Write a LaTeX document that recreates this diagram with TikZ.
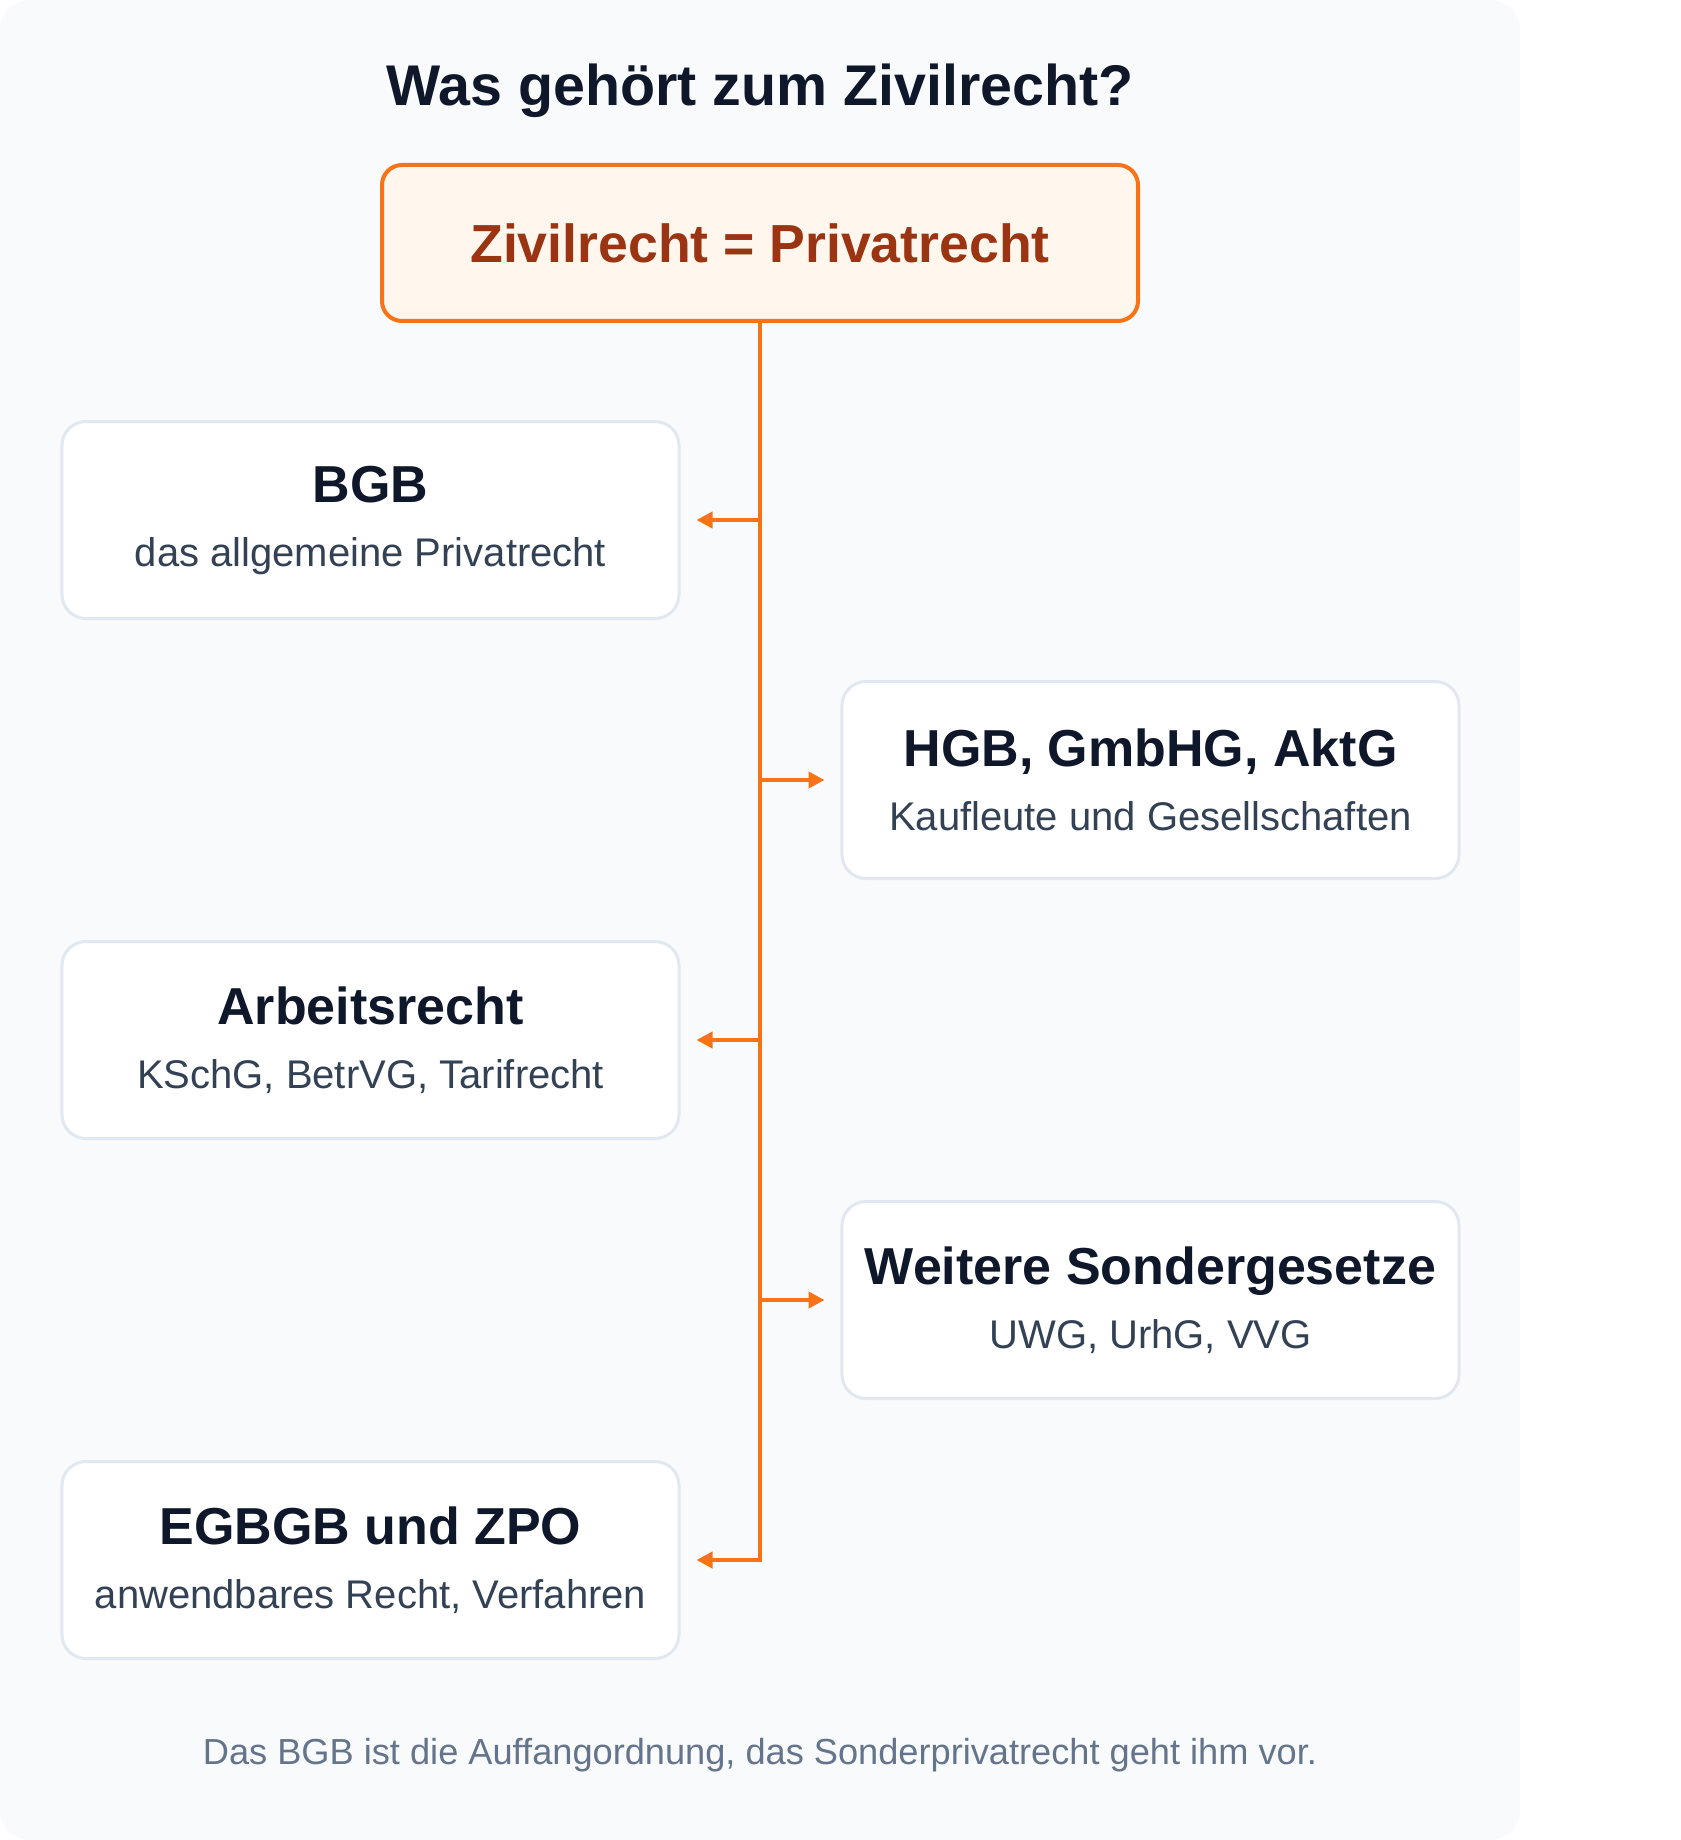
\documentclass[tikz,border=0pt]{standalone}
\usepackage{fontspec}
\setmainfont{Liberation Sans}
\usetikzlibrary{matrix,arrows.meta}

\definecolor{cardbg}{HTML}{F8FAFC}
\definecolor{zorange}{HTML}{F97316}
\definecolor{zfill}{HTML}{FFF7ED}
\definecolor{zbrown}{HTML}{9A3412}
\definecolor{lawline}{HTML}{E2E8F0}
\definecolor{lawtitle}{HTML}{0F172A}
\definecolor{lawsub}{HTML}{334155}
\definecolor{notegray}{HTML}{64748B}

\newcommand{\lawtext}[2]{\parskip=0pt\spaceskip=0pt\xspaceskip=0pt
	\leftskip=0pt plus 1fil\rightskip=0pt plus 1fil\parfillskip=0pt
	{\fontsize{26}{32}\selectfont\bfseries\color{lawtitle}#1\par}{\fontsize{20}{32}\selectfont\color{lawsub}#2\par}}

\begin{document}
\begin{tikzpicture}[
	lawbox/.style={draw=lawline, line width=1.5pt, fill=white, rounded corners=12pt,
		minimum width=308.5pt, minimum height=98.5pt, text width=300pt, align=center, inner sep=0pt},
	branch/.style={draw=zorange, line width=2pt, -{Triangle[length=8pt,width=8pt]}}
	]
	\useasboundingbox (0,0) rectangle (840pt,-920pt);
	\fill[cardbg, rounded corners=15pt] (0,0) rectangle (760pt,-920pt);
	\node (title) [anchor=base, text=lawtitle, font=\fontsize{28.7}{34}\selectfont\bfseries]
		at (380pt,-52.8pt) {Was gehört zum Zivilrecht?};
	\node (zr) [draw=zorange, line width=2pt, fill=zfill, rounded corners=10pt,
		minimum width=378pt, minimum height=78pt, text=zbrown,
		font=\fontsize{26.8}{32}\selectfont\bfseries] at (380pt,-121.5pt) {Zivilrecht = Privatrecht};
	\matrix (m) [row sep=30pt, column sep=80pt] at (380.25pt,-520pt)
	{
		\node[lawbox] (bgb) {\lawtext{BGB}{das allgemeine Privatrecht}}; & \\
		& \node[lawbox] (hgb) {\lawtext{HGB, GmbHG, AktG}{Kaufleute und Gesellschaften}}; \\
		\node[lawbox] (arb) {\lawtext{Arbeitsrecht}{KSchG, BetrVG, Tarifrecht}}; & \\
		& \node[lawbox] (sonder) {\lawtext{Weitere Sondergesetze}{UWG, UrhG, VVG}}; \\
		\node[lawbox] (egbgb) {\lawtext{EGBGB und ZPO}{anwendbares Recht, Verfahren}}; & \\
	};
	\draw[branch] (zr.south) |- ([xshift=8pt]egbgb.east);
	\path
	(zr.south |- bgb.east) edge[branch] ([xshift=8pt]bgb.east)
	(zr.south |- hgb.west) edge[branch] ([xshift=-8pt]hgb.west)
	(zr.south |- arb.east) edge[branch] ([xshift=8pt]arb.east)
	(zr.south |- sonder.west) edge[branch] ([xshift=-8pt]sonder.west)
	;
	\node (note) [anchor=base, text=notegray, font=\fontsize{18.1}{22}\selectfont]
		at (380pt,-882.3pt) {Das BGB ist die Auffangordnung, das Sonderprivatrecht geht ihm vor.};
\end{tikzpicture}
\end{document}
